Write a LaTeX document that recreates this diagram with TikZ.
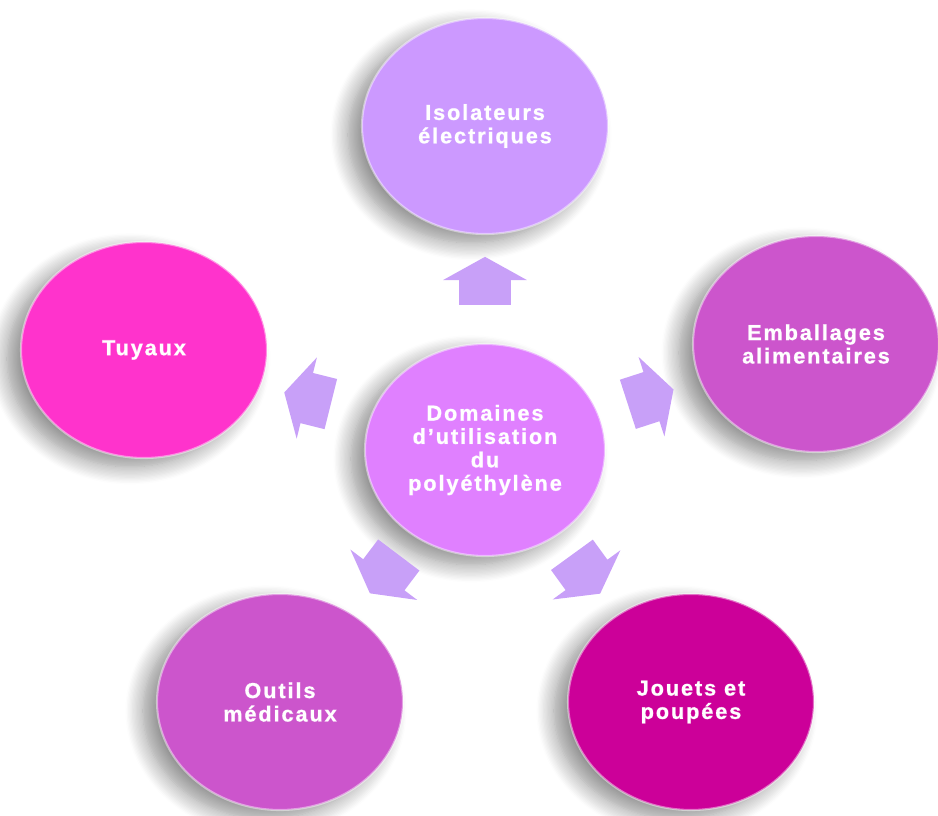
\documentclass[tikz,border=0pt]{standalone}
\usepackage{fontspec}
\newfontfamily\labelfont[LetterSpace=9, BoldFeatures={FakeBold=3}]{Liberation Sans}
\definecolor{isoviolet}{RGB}{204, 153, 255}
\definecolor{tuyaupink}{RGB}{255, 51, 204}
\definecolor{orchid1}{RGB}{204, 85, 204}
\definecolor{centremauve}{RGB}{224, 128, 255}
\definecolor{jouetplum}{RGB}{204, 0, 153}
\definecolor{arrowlilac}{RGB}{200, 160, 248}
\usetikzlibrary{shapes.geometric, shapes.arrows, calc, shadows.blur}

\tikzset{
  usebubble/.style={ellipse, minimum width=4.92cm, minimum height=4.32cm, inner sep=0pt,
    align=center, text=white, font=\labelfont\bfseries\fontsize{12.3}{13.3}\selectfont,
    draw=white, draw opacity=0.45, line width=1.2pt,
    blur shadow={shadow xshift=-8pt, shadow yshift=-5pt, shadow blur radius=10pt,
      shadow blur steps=14, shadow opacity=45}},
  bigarrow/.style={single arrow, fill=arrowlilac, minimum height=0.96cm,
    inner xsep=0pt, inner ysep=0.51cm, single arrow head extend=0.32cm,
    single arrow tip angle=122}
}

\begin{document}
\begin{tikzpicture}
  \useasboundingbox (0, 0) rectangle (18.76, 16.30);

  % Centre
  \node[usebubble, fill=centremauve, minimum width=4.80cm, minimum height=4.24cm] (centre) at (9.70, 7.30)
    {Domaines\\d’utilisation\\du\\polyéthylène};

  % Uses
  \node[usebubble, fill=isoviolet] (iso) at (9.70, 13.78) {Isolateurs\\électriques};
  \node[usebubble, fill=tuyaupink] (tuy) at (2.88, 9.30) {Tuyaux};
  \node[usebubble, fill=orchid1] (emb) at (16.32, 9.42) {Emballages\\alimentaires};
  \node[usebubble, fill=orchid1] (outil) at (5.60, 2.26) {Outils\\médicaux};
  \node[usebubble, fill=jouetplum] (jouet) at (13.82, 2.26) {Jouets et\\poupées};

  % Arrows from the centre outwards, on top of the shadows
  \node[bigarrow, rotate=90] (a1) at ($(centre)!0.5!(iso)$) {};
  \node[bigarrow, rotate=166] (a2) at ($(centre)!0.5!(tuy)$) {};
  \node[bigarrow, rotate=18] (a3) at ($(centre)!0.48!(emb)$) {};
  \node[bigarrow, rotate=-127] (a4) at ($(centre)!0.47!(outil)$) {};
  \node[bigarrow, rotate=-54] (a5) at ($(centre)!0.47!(jouet)$) {};
\end{tikzpicture}
\end{document}
